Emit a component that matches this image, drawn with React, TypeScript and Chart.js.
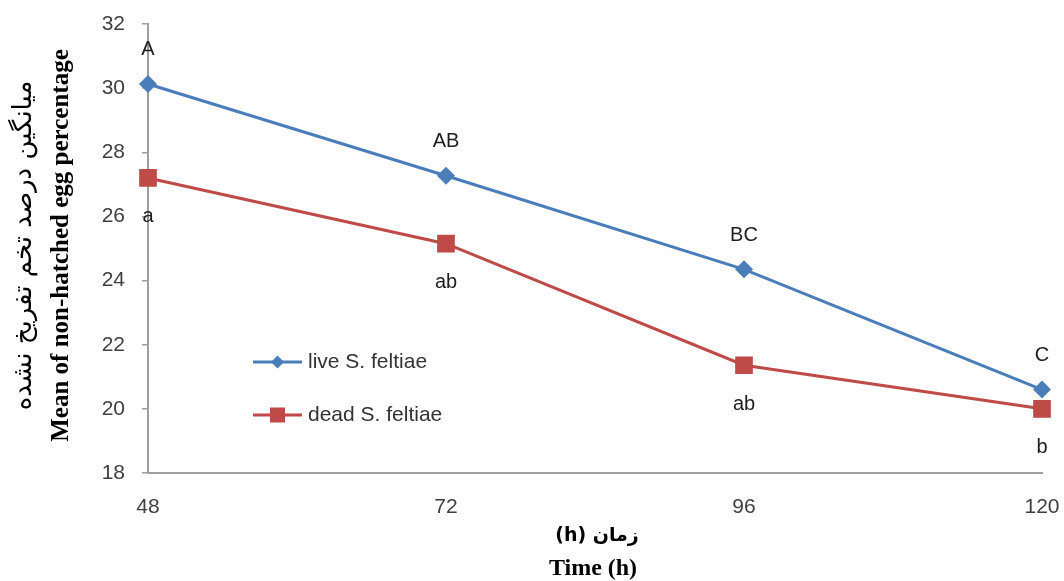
import React, { useEffect, useRef } from 'react';
import { Chart, registerables } from 'chart.js';

Chart.register(...registerables);

const categories = ['48', '72', '96', '120'];
const liveValues = [30.13, 27.27, 24.35, 20.6];
const deadValues = [27.2, 25.15, 21.36, 20.0];
const liveLetters = ['A', 'AB', 'BC', 'C'];
const deadLetters = ['a', 'ab', 'ab', 'b'];
const seriesNames = ['live S. feltiae', 'dead S. feltiae'];
const yTitleFa = 'میانگین درصد تخم تفریخ نشده';
const yTitleEn = 'Mean of non-hatched egg percentage';
const xTitleFa = 'زمان (h)';
const xTitleEn = 'Time (h)';
const yMin = 18;
const yMax = 32;
const yStep = 2;

const BLUE = '#4a7ebb';
const RED = '#be4b48';
const SANS = '"Liberation Sans", Arial, sans-serif';
const SERIF = '"Liberation Serif", "Times New Roman", serif';

const lettersPlugin = {
  id: 'letters',
  afterDatasetsDraw(chart: any) {
    const ctx = chart.ctx;
    const sets = [
      { letters: liveLetters, dy: -34 },
      { letters: deadLetters, dy: 39 },
    ];
    ctx.save();
    ctx.font = '20px ' + SANS;
    ctx.fillStyle = '#1e1e1e';
    ctx.textAlign = 'center';
    ctx.textBaseline = 'middle';
    sets.forEach((s, di) => {
      const meta = chart.getDatasetMeta(di);
      meta.data.forEach((pt: any, i: number) => {
        ctx.fillText(s.letters[i], pt.x, pt.y + s.dy);
      });
    });
    ctx.restore();
  },
};

const legendPlugin = {
  id: 'innerLegend',
  afterDraw(chart: any) {
    const ctx = chart.ctx;
    const a = chart.chartArea;
    const x0 = a.left + 105;
    const x1 = a.left + 154;
    const tx = a.left + 160;
    const ys = [a.top + 338, a.top + 391];
    ctx.save();
    ctx.font = '21px ' + SANS;
    ctx.textBaseline = 'middle';
    ctx.textAlign = 'left';
    chart.data.datasets.forEach((ds: any, i: number) => {
      const y = ys[i];
      const cx = (x0 + x1) / 2;
      ctx.strokeStyle = ds.borderColor;
      ctx.lineWidth = 3;
      ctx.beginPath();
      ctx.moveTo(x0, y);
      ctx.lineTo(x1, y);
      ctx.stroke();
      ctx.fillStyle = ds.borderColor;
      ctx.beginPath();
      if (i === 0) {
        const r = 6.5;
        ctx.moveTo(cx, y - r);
        ctx.lineTo(cx + r, y);
        ctx.lineTo(cx, y + r);
        ctx.lineTo(cx - r, y);
        ctx.closePath();
      } else {
        ctx.rect(cx - 7.5, y - 7.5, 15, 15);
      }
      ctx.fill();
      ctx.fillStyle = '#333333';
      ctx.fillText(seriesNames[i], tx, y);
    });
    ctx.restore();
  },
};

const titlesPlugin = {
  id: 'axisTitles',
  afterDraw(chart: any) {
    const ctx = chart.ctx;
    const a = chart.chartArea;
    const cy = (a.top + a.bottom) / 2;
    const cx = (a.left + a.right) / 2;
    ctx.save();
    ctx.fillStyle = '#000000';
    ctx.textAlign = 'center';
    ctx.textBaseline = 'middle';
    // y titles
    ctx.save();
    ctx.translate(24, cy - 3);
    ctx.rotate(-Math.PI / 2);
    ctx.direction = 'rtl';
    ctx.font = '26px "DejaVu Sans", sans-serif';
    ctx.fillText(yTitleFa, 0, 0);
    ctx.restore();
    ctx.save();
    ctx.translate(62, cy - 3);
    ctx.rotate(-Math.PI / 2);
    ctx.font = 'bold 25px ' + SERIF;
    ctx.fillText(yTitleEn, 0, 0);
    ctx.restore();
    // x titles
    ctx.save();
    ctx.direction = 'rtl';
    ctx.font = 'bold 19px "DejaVu Sans", sans-serif';
    ctx.fillText(xTitleFa, cx + 2, 536);
    ctx.restore();
    ctx.font = 'bold 24px ' + SERIF;
    ctx.fillText(xTitleEn, cx - 2, 569);
    ctx.restore();
  },
};

export default function App() {
  const ref = useRef<HTMLCanvasElement>(null);
  useEffect(() => {
    if (!ref.current) return;
    const chart = new Chart(ref.current, {
      type: 'line',
      data: {
        labels: categories,
        datasets: [
          {
            label: seriesNames[0],
            data: liveValues,
            borderColor: BLUE,
            backgroundColor: BLUE,
            borderWidth: 3,
            pointStyle: 'rectRot',
            pointRadius: 9,
            pointHoverRadius: 9,
            pointBorderWidth: 0,
            tension: 0,
          },
          {
            label: seriesNames[1],
            data: deadValues,
            borderColor: RED,
            backgroundColor: RED,
            borderWidth: 3,
            pointStyle: 'rect',
            pointRadius: 12.5,
            pointHoverRadius: 12.5,
            pointBorderWidth: 0,
            tension: 0,
          },
        ],
      },
      options: {
        animation: false,
        responsive: false,
        events: [],
        layout: { padding: { left: 0, right: 22, top: 24, bottom: 0 } },
        plugins: {
          legend: { display: false },
          tooltip: { enabled: false },
          title: { display: false },
        },
        scales: {
          x: {
            type: 'category',
            offset: false,
            afterFit: (s: any) => {
              s.height = 108;
              s.paddingLeft = 0;
              s.paddingRight = 0;
            },
            grid: { display: true, drawOnChartArea: false, drawTicks: false },
            border: { display: true, color: '#a0a0a0', width: 2 },
            ticks: {
              padding: 22,
              color: '#404040',
              font: { family: SANS, size: 21 },
              maxRotation: 0,
              autoSkip: false,
            },
          },
          y: {
            min: yMin,
            max: yMax,
            afterFit: (s: any) => {
              s.width = 148;
              s.paddingTop = 0;
              s.paddingBottom = 0;
            },
            grid: { drawOnChartArea: false, drawTicks: true, tickLength: 6, color: '#a0a0a0', lineWidth: 1.5 },
            border: { display: true, color: '#a0a0a0', width: 2 },
            ticks: {
              stepSize: yStep,
              padding: 17,
              color: '#404040',
              font: { family: SANS, size: 21 },
            },
          },
        },
      },
      plugins: [lettersPlugin, legendPlugin, titlesPlugin],
    });
    return () => chart.destroy();
  }, []);
  return (
    <div style={{ position: 'absolute', left: 0, top: 0, width: 1064, height: 581, background: '#fff' }}>
      <canvas ref={ref} width={1064} height={581} style={{ display: 'block' }} />
    </div>
  );
}
